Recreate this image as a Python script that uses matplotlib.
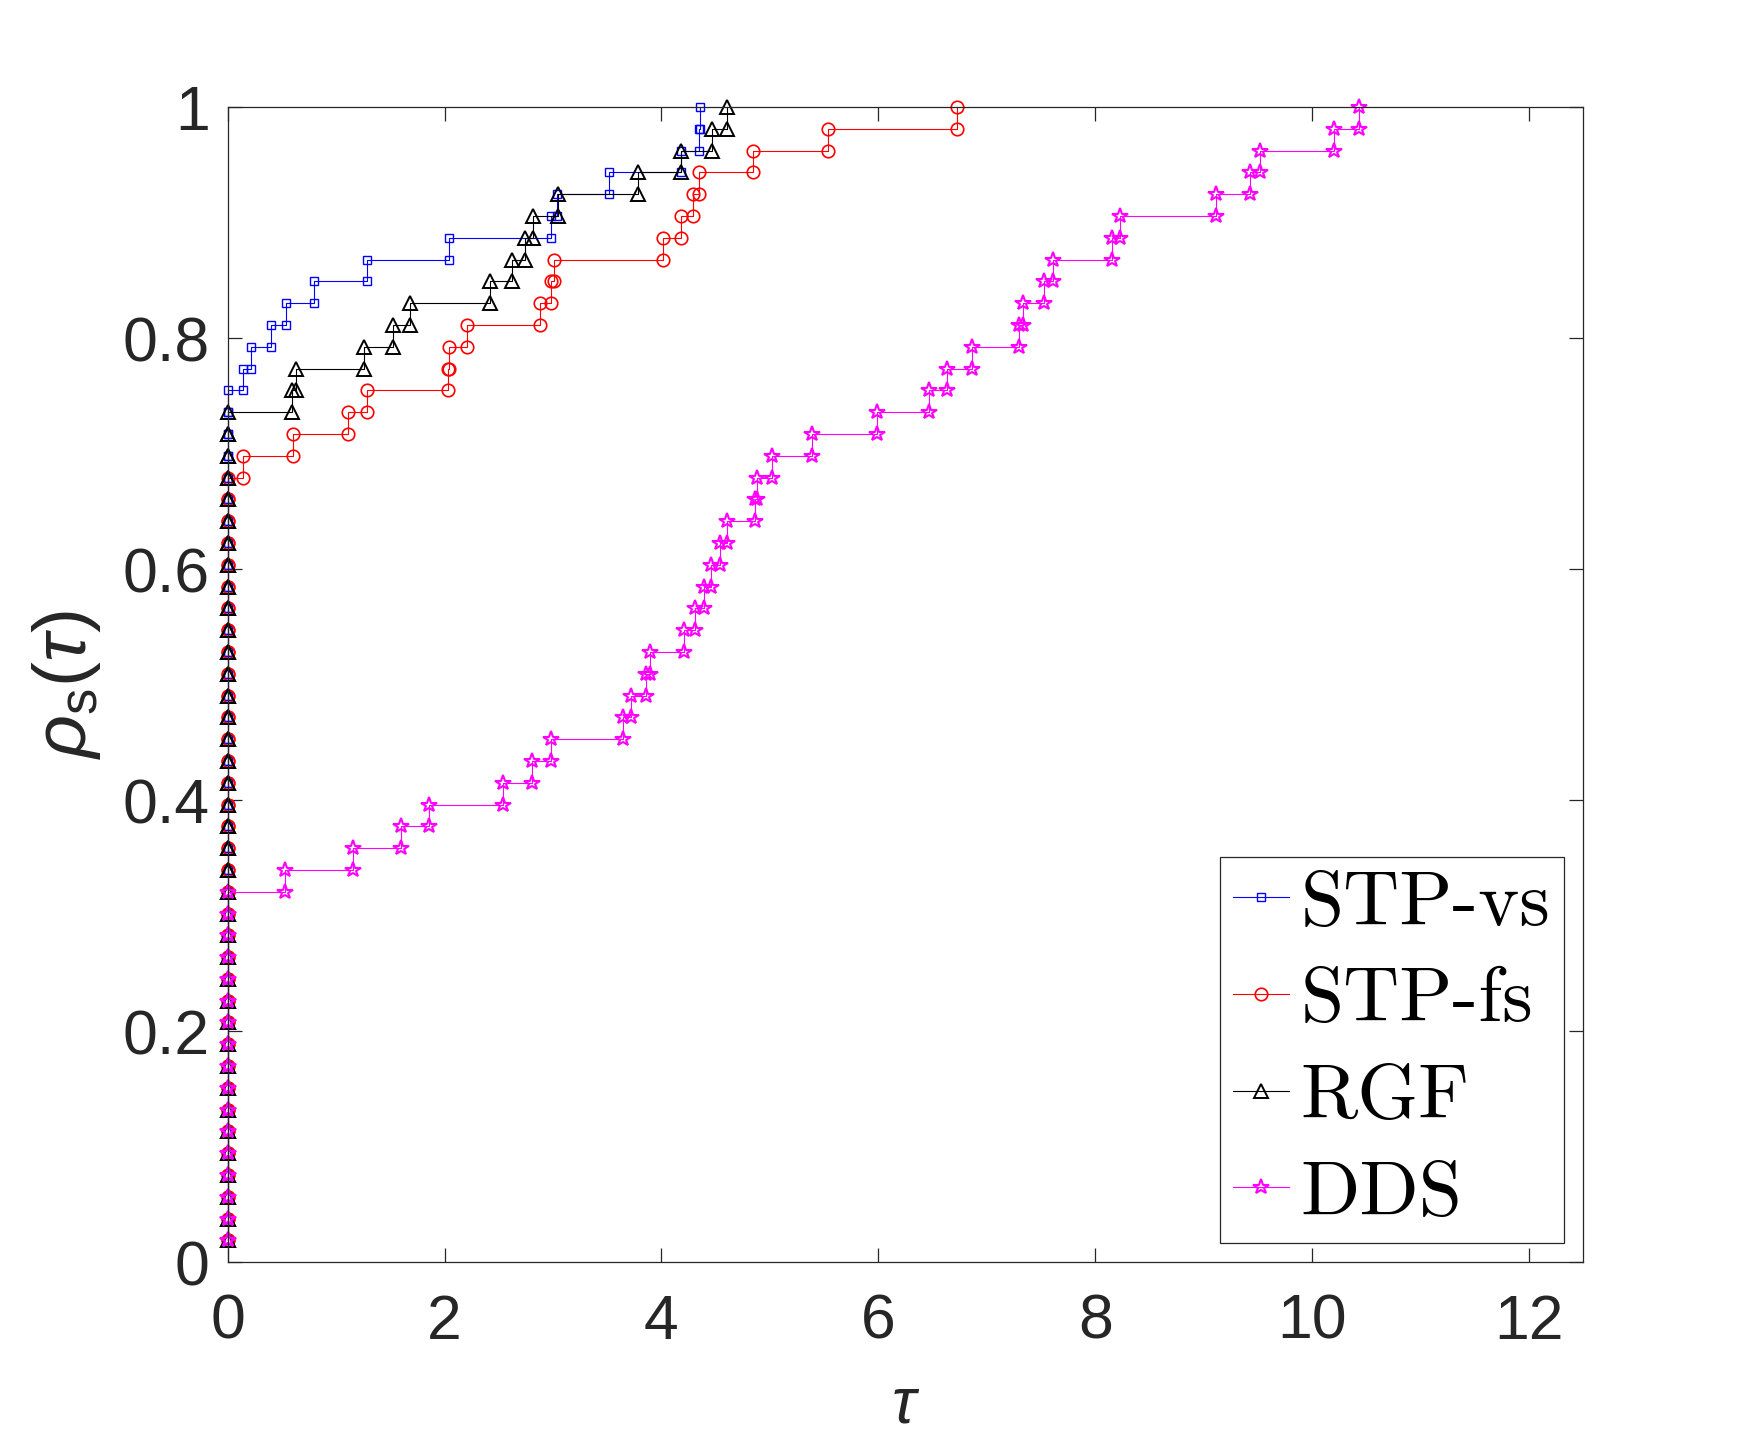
import numpy as np
import matplotlib
matplotlib.use("Agg")
import matplotlib.pyplot as plt
from matplotlib.font_manager import FontProperties

# ---------------- data (performance profile, 53 problems) ----------------
n_problems = 53

stp_vs_zeros = 40
stp_vs_tau = [0.138, 0.212, 0.397, 0.538, 0.80, 1.283, 2.037, 2.985, 3.04,
              3.52, 4.176, 4.345, 4.36]

stp_fs_zeros = 36
stp_fs_tau = [0.144, 0.606, 1.105, 1.283, 2.028, 2.04, 2.207, 2.877, 2.985,
              3.007, 4.016, 4.176, 4.29, 4.345, 4.848, 5.537, 6.725]

rgf_zeros = 39
rgf_tau = [0.59, 0.63, 1.258, 1.52, 1.683, 2.422, 2.625, 2.742, 2.813, 3.05,
           3.785, 4.176, 4.47, 4.607]

dds_zeros = 17
dds_tau = [0.529, 1.154, 1.597, 1.859, 2.539, 2.807, 2.985, 3.647, 3.72,
           3.853, 3.893, 4.207, 4.309, 4.392, 4.453, 4.537, 4.607, 4.863,
           4.884, 5.023, 5.386, 5.99, 6.469, 6.63, 6.861, 7.30, 7.33, 7.531,
           7.608, 8.153, 8.224, 9.116, 9.424, 9.516, 10.2, 10.43]

labels = ["STP-vs", "STP-fs", "RGF", "DDS"]
x_ticks = [0, 2, 4, 6, 8, 10, 12]
y_ticks = [0, 0.2, 0.4, 0.6, 0.8, 1]
y_tick_labels = ["0", "0.2", "0.4", "0.6", "0.8", "1"]

# ---------------- style ----------------
plt.rcParams["mathtext.fontset"] = "custom"
plt.rcParams["mathtext.rm"] = "Liberation Sans"
plt.rcParams["mathtext.sf"] = "Liberation Sans"
plt.rcParams["mathtext.it"] = "Liberation Sans:italic"
plt.rcParams["font.family"] = ["Liberation Sans", "DejaVu Sans"]
axis_color = "#262626"

series = [
    (stp_vs_zeros, stp_vs_tau, dict(color="#0000ff", marker="s", ms=5.6, mew=1.0)),
    (stp_fs_zeros, stp_fs_tau, dict(color="#ff0000", marker="o", ms=9.0, mew=1.2)),
    (rgf_zeros, rgf_tau, dict(color="#000000", marker="^", ms=10.5, mew=1.4)),
    (dds_zeros, dds_tau, dict(color="#ff00ff", marker="*", ms=11.5, mew=1.5)),
]

fig = plt.figure(figsize=(17.5, 14.38), dpi=100)
ax = fig.add_axes([0.1301, 0.1222, 0.9047 - 0.1301, 0.9256 - 0.1222])

handles = []
for (nz, taus, st), lab in zip(series, labels):
    x = np.concatenate([np.zeros(nz), np.asarray(taus, dtype=float)])
    y = np.arange(1, n_problems + 1) / n_problems
    xs = np.repeat(x, 2)[1:]
    ys = np.repeat(y, 2)[:-1]
    h, = ax.plot(xs, ys, color=st["color"], lw=0.8, marker=st["marker"],
                 ms=st["ms"], mew=st["mew"], mfc="none", mec=st["color"],
                 label=lab, clip_on=False)
    handles.append(h)

ax.set_xlim(0, 12.5)
ax.set_ylim(0, 1)
ax.set_xticks(x_ticks)
ax.set_xticklabels([str(t) for t in x_ticks])
ax.set_yticks(y_ticks)
ax.set_yticklabels(y_tick_labels)

for sp in ax.spines.values():
    sp.set_color(axis_color)
    sp.set_linewidth(0.9)
ax.tick_params(direction="in", length=10, width=0.9, colors=axis_color,
               top=True, right=True, labelsize=45)
ax.tick_params(axis="x", pad=22)
ax.tick_params(axis="y", pad=13)
for lbl in ax.get_xticklabels() + ax.get_yticklabels():
    lbl.set_color(axis_color)

ax.set_xlabel(r"$\tau$", fontsize=46, color=axis_color, labelpad=17)
ax.set_ylabel(r"$\rho_{\mathrm{s}}(\tau)$", fontsize=54, color=axis_color,
              labelpad=14)

leg = ax.legend(handles=handles, loc="lower right",
                prop=FontProperties(family="cmr10", size=56),
                frameon=True, fancybox=False, framealpha=1,
                edgecolor=axis_color, borderaxespad=0.25,
                handlelength=0.72, handletextpad=0.15, labelspacing=0.35,
                borderpad=0.17)
leg.get_frame().set_linewidth(0.9)

fig.savefig("out.png", dpi=100, facecolor="white")
